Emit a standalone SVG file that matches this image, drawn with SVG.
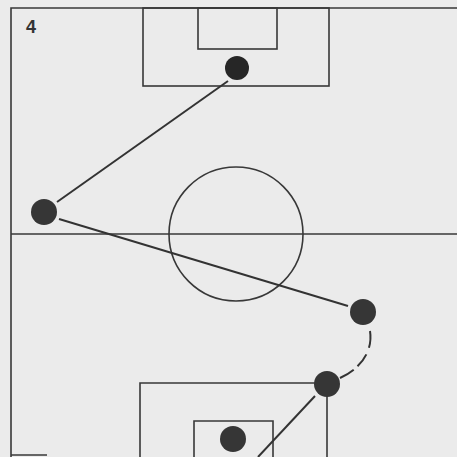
<svg xmlns="http://www.w3.org/2000/svg" width="457" height="457" viewBox="0 0 457 457">
<style>
.ln{fill:none;stroke:#383838;stroke-width:1.6}
.mv{fill:none;stroke:#333;stroke-width:2}
.pl{fill:#363636}
.lbl{font-family:"Liberation Sans",Arial,sans-serif;font-weight:bold;font-size:18px;fill:#333}
</style>
<rect width="457" height="457" fill="#ebebeb"/>
<g id="pitch">
<path class="ln" d="M11 457 V8 H457"/>
<line class="ln" x1="11" y1="455" x2="47" y2="455"/>
<line class="ln" x1="11" y1="234" x2="457" y2="234"/>
<circle class="ln" cx="236" cy="234" r="67"/>
<rect class="ln" x="143" y="8" width="186" height="78"/>
<rect class="ln" x="198" y="8" width="79" height="41"/>
<path class="ln" d="M140 457 V383 H327 V457"/>
<path class="ln" d="M194 457 V421 H273 V457"/>
</g>
<text class="lbl" x="26" y="33">4</text>
<g id="connectors">
<line class="mv" x1="228" y1="81" x2="57" y2="202"/>
<line class="mv" x1="59" y1="219" x2="348" y2="306"/>
<path class="mv" d="M370 331 C373 350 362 368 340 378" stroke-dasharray="17 7 15 5"/>
<line class="mv" x1="315" y1="396" x2="258" y2="457"/>
</g>
<g id="ball"><circle cx="237" cy="68" r="12" fill="#262626"/></g>
<g id="p1"><circle class="pl" cx="44" cy="212" r="13"/></g>
<g id="p2"><circle class="pl" cx="363" cy="312" r="13"/></g>
<g id="p3"><circle class="pl" cx="327" cy="384" r="13"/></g>
<g id="p4"><circle class="pl" cx="233" cy="439" r="13"/></g>
</svg>
